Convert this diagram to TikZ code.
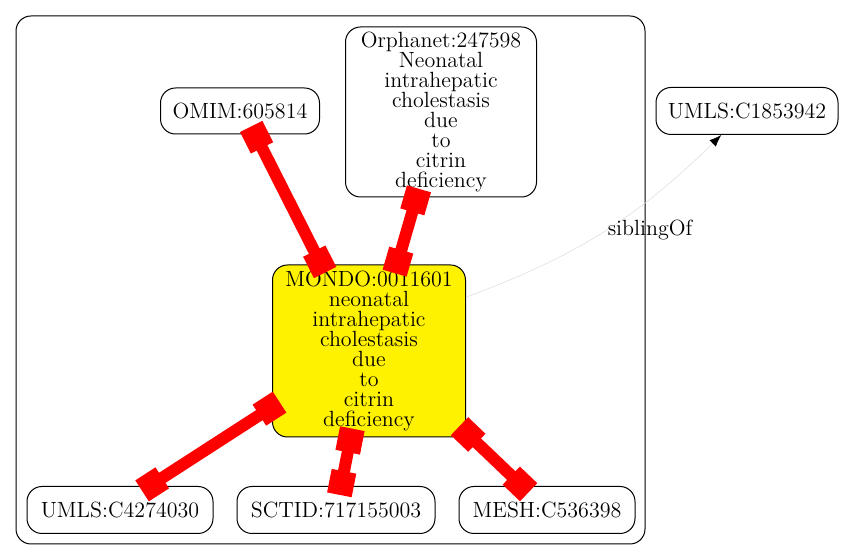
\documentclass[tikz,border=0pt]{standalone}
\usepackage{amsmath}
\usepackage{amssymb}
\usepackage{tikz}
\usetikzlibrary{arrows.meta}

\begin{document}
\begin{tikzpicture}[x=0.5pt, y=-0.5pt,
		term/.style={draw, line width=0.5pt, rounded corners=7.5pt, align=center, inner sep=0pt, font=\fontsize{11}{10}\selectfont},
		xref/.style={line width=6pt, red, {Rectangle[length=12pt,width=12.5pt]}-{Rectangle[length=12pt,width=12.5pt]}, shorten <=-4.5pt, shorten >=-4.5pt}]
			\useasboundingbox (0,0) rectangle (848,560);
			% Cluster
			\draw[line width=0.5pt, rounded corners=7.5pt] (16,16) rectangle (645,544);
			% Nodes
			\node[term, minimum width=79.5pt, minimum height=23pt] (omim) at (240,111) {OMIM:605814};
			\node[term, minimum width=95.5pt, minimum height=85pt] (orpha) at (441,112) {Orphanet:247598\\Neonatal\\intrahepatic\\cholestasis\\due\\to\\citrin\\deficiency};
			\node[term, minimum width=91pt, minimum height=23.5pt] (umlsA) at (747,111) {UMLS:C1853942};
			\node[term, fill=yellow, minimum width=96.5pt, minimum height=86pt] (mondo) at (369,351) {MONDO:0011601\\neonatal\\intrahepatic\\cholestasis\\due\\to\\citrin\\deficiency};
			\node[term, minimum width=93pt, minimum height=23.5pt] (umlsB) at (120,510) {UMLS:C4274030};
			\node[term, minimum width=99pt, minimum height=23.5pt] (sctid) at (336,510) {SCTID:717155003};
			\node[term, minimum width=88pt, minimum height=23.5pt] (mesh) at (547,510) {MESH:C536398};
			% Edges
			\draw[xref] (omim.-57) -- (mondo.119);
			\draw[xref] (orpha.-106) -- (mondo.72);
			\draw[xref] (mondo.-150) -- (umlsB.39);
			\draw[xref] (mondo.-102.5) -- (sctid.78);
			\draw[xref] (mondo.-40) -- (mesh.136);
			\draw[gray!25, line width=0.3pt, -{Latex[length=6pt,width=4.5pt,black]}] (mondo.29) to[bend right=12] (umlsA.-137);
			\node[font=\fontsize{11}{10}\selectfont] (sib) at (650,230) {siblingOf};
		\end{tikzpicture}
\end{document}
